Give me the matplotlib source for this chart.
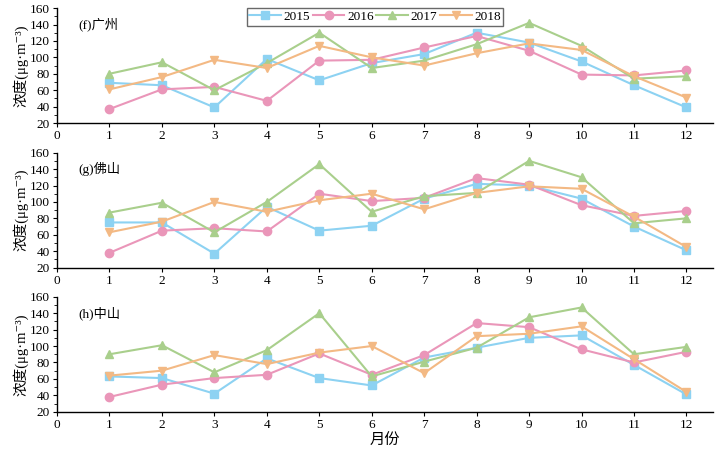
import matplotlib
matplotlib.use('Agg')
import matplotlib.pyplot as plt
import numpy as np
from matplotlib.ticker import MultipleLocator

plt.rcParams['font.family'] = ['Liberation Serif', 'Noto Sans CJK SC', 'DejaVu Serif']

months = np.arange(1, 13)
years = ['2015', '2016', '2017', '2018']

# (f) 广州
gz_2015 = [69, 66, 39, 98, 72, 93, 104, 130, 118, 95, 66, 39]
gz_2016 = [37, 61, 64, 47, 96, 97, 112, 126, 108, 79, 78, 84]
gz_2017 = [80, 94, 60, 93, 130, 87, 96, 116, 142, 114, 74, 77]
gz_2018 = [61, 76, 97, 87, 114, 100, 90, 105, 117, 109, 77, 51]

# (g) 佛山
fs_2015 = [75, 75, 37, 94, 65, 71, 104, 122, 120, 104, 70, 41]
fs_2016 = [38, 65, 68, 64, 110, 101, 105, 129, 121, 96, 83, 89]
fs_2017 = [87, 99, 63, 100, 146, 88, 107, 111, 150, 130, 74, 80]
fs_2018 = [63, 76, 100, 88, 102, 110, 91, 111, 119, 116, 82, 45]

# (h) 中山
zs_2015 = [63, 61, 42, 85, 61, 52, 86, 98, 110, 113, 77, 41]
zs_2016 = [38, 53, 61, 65, 91, 65, 89, 128, 123, 96, 80, 93]
zs_2017 = [90, 101, 68, 95, 140, 63, 81, 98, 135, 147, 90, 99]
zs_2018 = [64, 70, 89, 78, 92, 100, 67, 112, 115, 124, 84, 44]

panels = [
    ('(f)广州', [gz_2015, gz_2016, gz_2017, gz_2018]),
    ('(g)佛山', [fs_2015, fs_2016, fs_2017, fs_2018]),
    ('(h)中山', [zs_2015, zs_2016, zs_2017, zs_2018]),
]

colors = ['#8dd2f2', '#ea96b9', '#a9cf8c', '#f3b984']
markers = ['s', 'o', '^', 'v']

fig = plt.figure(figsize=(7.17, 4.49), dpi=100)
left, width = 0.0795, 0.9145
bottoms = [0.726, 0.404, 0.083]
height = 0.256

for i, (name, series) in enumerate(panels):
    ax = fig.add_axes([left, bottoms[i], width, height])
    for y, vals, c, m in zip(years, series, colors, markers):
        ax.plot(months, vals, color=c, marker=m, markersize=6, lw=1.5,
                label=y, clip_on=False)
    ax.set_xlim(0, 12.5)
    ax.set_ylim(20, 160)
    ax.set_xticks(np.arange(0, 13))
    ax.yaxis.set_major_locator(MultipleLocator(20))
    ax.yaxis.set_minor_locator(MultipleLocator(10))
    ax.spines['top'].set_visible(False)
    ax.spines['right'].set_visible(False)
    ax.spines['left'].set_linewidth(1.0)
    ax.spines['bottom'].set_linewidth(1.0)
    ax.tick_params(axis='both', which='major', labelsize=9.5, length=3, width=0.8, pad=2)
    ax.tick_params(axis='y', which='minor', length=2, width=0.6)
    ax.set_ylabel('浓度(μg·m⁻³)', fontsize=10.5, labelpad=1)
    ax.text(0.4, 140, name, fontsize=9.5, va='center')
    if i == 0:
        ax.legend(loc='upper center', bbox_to_anchor=(0.485, 1.0), ncol=4,
                  fontsize=9.5, frameon=True, fancybox=False, edgecolor='#444444',
                  borderaxespad=0, handlelength=2.4, handletextpad=0.2,
                  columnspacing=0.2, borderpad=0.2)
    if i == 2:
        ax.set_xlabel('月份', fontsize=11, labelpad=2)

fig.savefig('out.png', dpi=100)
